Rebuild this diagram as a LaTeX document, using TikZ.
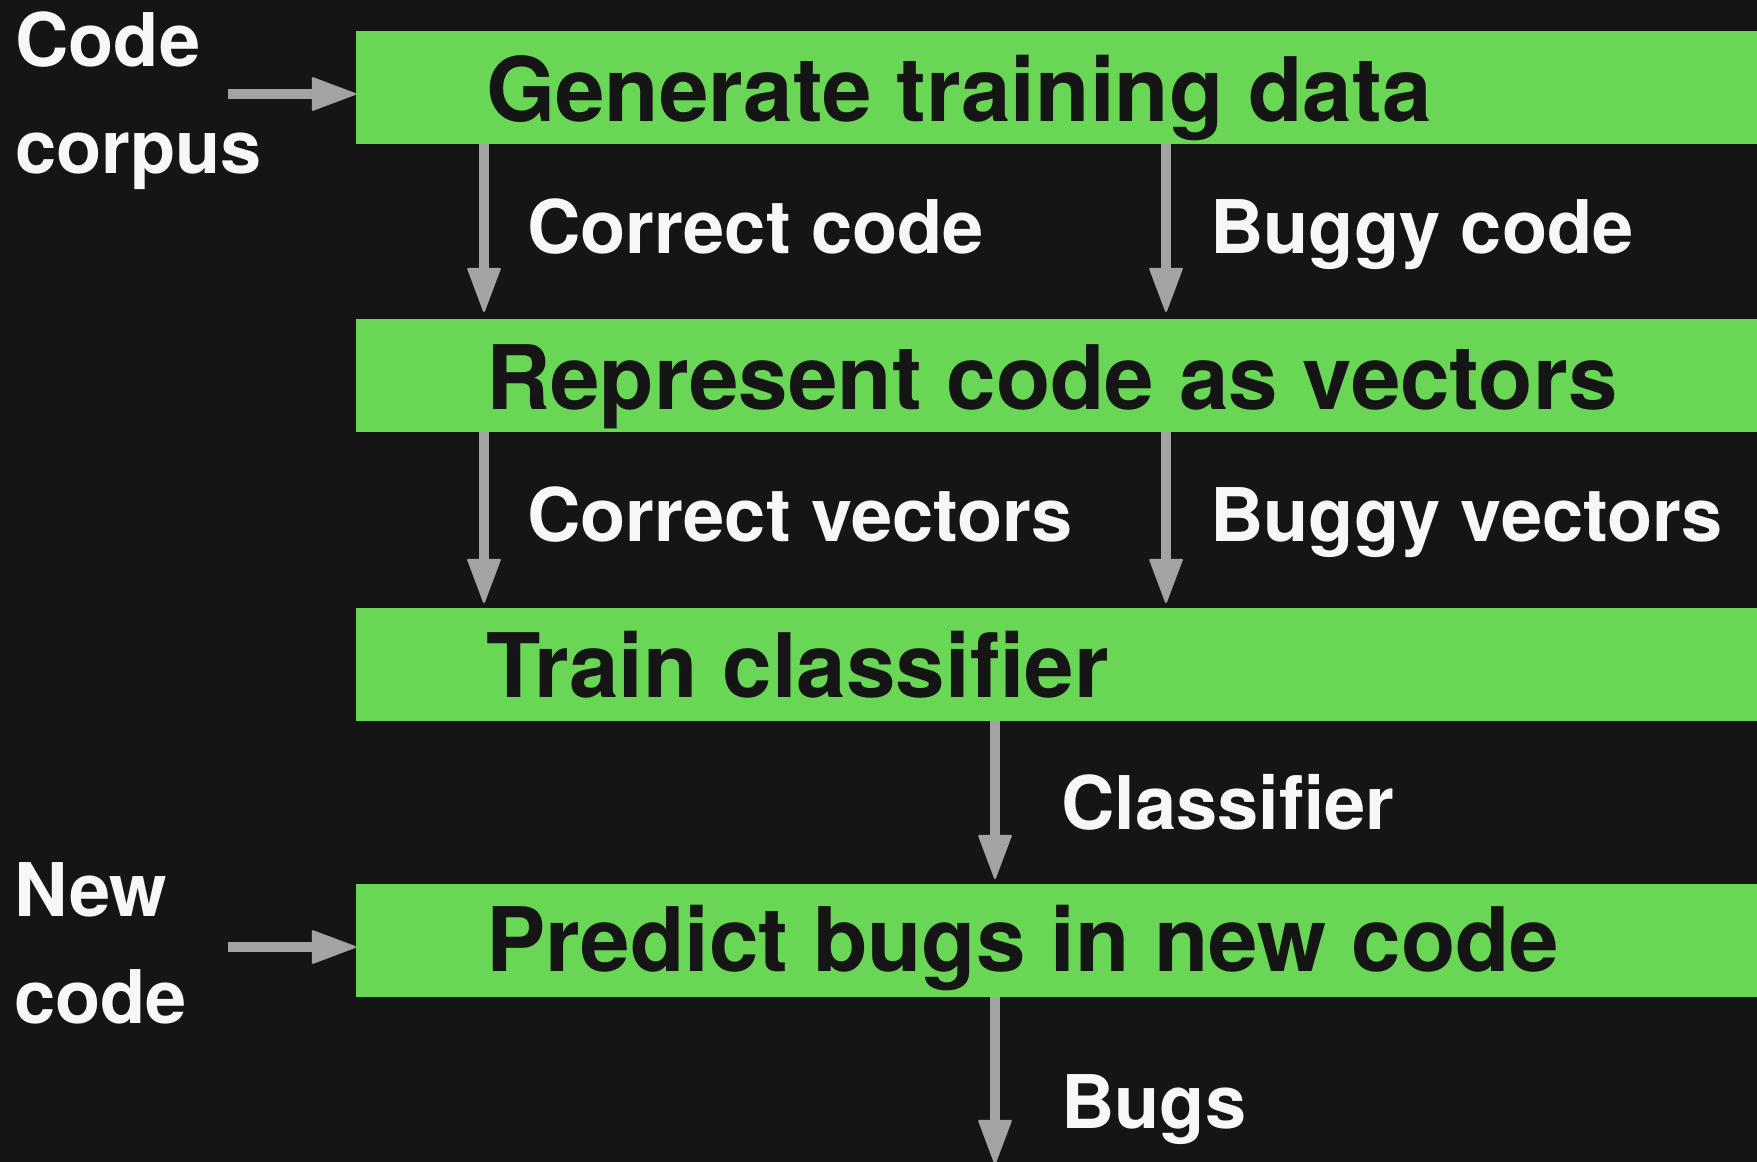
\documentclass[tikz,border=0pt]{standalone}
\usepackage{fontspec}
\setmainfont{TeX Gyre Heros}
\usetikzlibrary{arrows.meta}
\definecolor{bgc}{HTML}{151515}
\definecolor{boxg}{HTML}{6AD655}
\definecolor{arrg}{HTML}{A3A3A3}
\definecolor{txtw}{HTML}{F7F7F7}
\begin{document}
\begin{tikzpicture}[x=1pt,y=-1pt,
  stage/.style={fill=boxg, draw=none, inner sep=0pt, minimum width=1450pt, minimum height=113pt, anchor=north west},
  stagetext/.style={text=bgc, font=\bfseries\fontsize{89}{100}\selectfont, inner sep=0pt, anchor=base west},
  lbl/.style={text=txtw, font=\bfseries\fontsize{74}{107}\selectfont, inner sep=0pt, anchor=base west},
  sidelbl/.style={text=txtw, font=\bfseries\fontsize{74}{107}\selectfont, inner sep=0pt, anchor=north west, align=left},
  flow/.style={draw=arrg, line width=9.5pt, -{Triangle[length=46pt,width=34pt,line width=2pt,round]}}]
\fill[bgc] (0,0) rectangle (1757,1162);
\useasboundingbox (0,0) rectangle (1757,1162);
\clip (0,0) rectangle (1757,1162);
% stages
\node[stage] (gen) at (356,31) {};
\node[stage] (rep) at (356,319) {};
\node[stage] (trn) at (356,608) {};
\node[stage] (prd) at (356,884) {};
\node[stagetext] (gent) at (486,121) {Generate training data};
\node[stagetext] (rept) at (486,409) {Represent code as vectors};
\node[stagetext] (trnt) at (486,697) {Train classifier};
\node[stagetext] (prdt) at (486,971) {Predict bugs in new code};
% labels
\node[lbl] (cc) at (527,253) {Correct code};
\node[lbl] (bc) at (1210,253) {Buggy code};
\node[lbl] (cv) at (527,541) {Correct vectors};
\node[lbl] (bv) at (1210,541) {Buggy vectors};
\node[lbl] (cl) at (1061,829) {Classifier};
\node[lbl] (bg) at (1061,1128) {Bugs};
\node[sidelbl] (corpus) at (15,11) {Code\\corpus};
\node[sidelbl] (newcode) at (14,862) {New\\code};
% connectors
\coordinate (ccin) at (228,94);
\coordinate (ncin) at (228,947);
\coordinate (out) at (995,1164);
\draw[flow] (ccin) -- (ccin -| gen.west);
\draw[flow] (ncin) -- (ncin -| prd.west);
\draw[flow] ([xshift=128pt]gen.south west) -- ([xshift=128pt,yshift=7pt]rep.north west);
\draw[flow] ([xshift=810pt]gen.south west) -- ([xshift=810pt,yshift=7pt]rep.north west);
\draw[flow] ([xshift=128pt]rep.south west) -- ([xshift=128pt,yshift=5pt]trn.north west);
\draw[flow] ([xshift=810pt]rep.south west) -- ([xshift=810pt,yshift=5pt]trn.north west);
\draw[flow] ([xshift=639pt]trn.south west) -- ([xshift=639pt,yshift=5pt]prd.north west);
\draw[flow] ([xshift=639pt]prd.south west) -- (out);
\end{tikzpicture}
\end{document}
